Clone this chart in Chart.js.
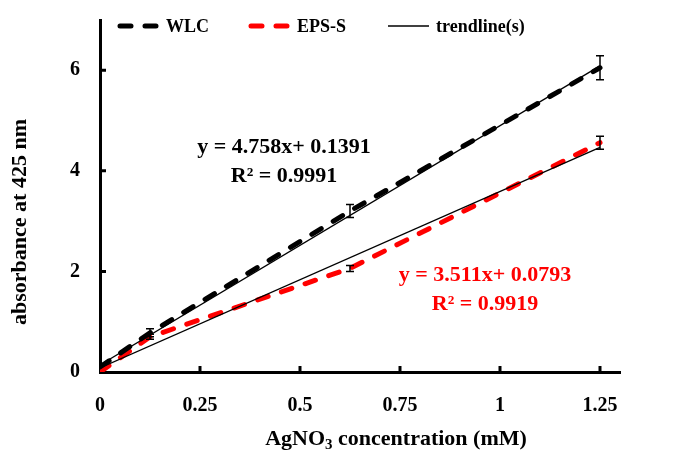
<!DOCTYPE html>
<html>
<head>
<meta charset="utf-8">
<script src="https://cdn.jsdelivr.net/npm/chart.js@4/dist/chart.umd.min.js"></script>
<style>
  body { margin: 0; background: #fff; }
  canvas { display: block; }
</style>
</head>
<body>
<canvas id="chart" width="677" height="455"></canvas>
<script>
// AgNO3 concentration (mM)
const concentrations = [0, 0.125, 0.625, 1.25];
// absorbance readings
const wlcValues = [0.1, 0.78, 3.2, 6.05];
const wlcErrors = [0, 0.08, 0.13, 0.24];
const epsValues = [0, 0.7, 2.06, 4.56];
const epsErrors = [0, 0.05, 0.06, 0.13];
// trendline equations as printed on the chart
const wlcFit = { slope: 4.758, intercept: 0.1391, r2: '0.9991' };
const epsFit = { slope: 3.511, intercept: 0.0793, r2: '0.9919' };
const xTicks = [0, 0.25, 0.5, 0.75, 1, 1.25];
const yTicks = [0, 2, 4, 6];

const FONT = '"Liberation Serif", "Times New Roman", serif';

const pts = (xs, ys) => xs.map((x, i) => ({ x: x, y: ys[i] }));
const fitLine = f => [0, 1.25].map(x => ({ x: x, y: f.slope * x + f.intercept }));

// error bars, inward ticks, legend, equations, axis titles
const extras = {
  id: 'extras',
  afterDatasetsDraw(chart) {
    const ctx = chart.ctx;
    const xs = chart.scales.x, ys = chart.scales.y;
    const area = chart.chartArea;
    ctx.save();

    // error bars
    ctx.strokeStyle = '#000';
    ctx.lineWidth = 1.5;
    [[wlcValues, wlcErrors], [epsValues, epsErrors]].forEach(([vals, errs]) => {
      concentrations.forEach((c, i) => {
        if (!errs[i]) return;
        const px = xs.getPixelForValue(c);
        const top = ys.getPixelForValue(vals[i] + errs[i]);
        const bot = ys.getPixelForValue(vals[i] - errs[i]);
        ctx.beginPath();
        ctx.moveTo(px, top); ctx.lineTo(px, bot);
        ctx.moveTo(px - 4, top); ctx.lineTo(px + 4, top);
        ctx.moveTo(px - 4, bot); ctx.lineTo(px + 4, bot);
        ctx.stroke();
      });
    });

    // inward tick marks
    ctx.lineWidth = 3;
    ctx.beginPath();
    xTicks.slice(1).forEach(v => {
      const px = xs.getPixelForValue(v);
      ctx.moveTo(px, area.bottom); ctx.lineTo(px, area.bottom - 6);
    });
    yTicks.slice(1).forEach(v => {
      const py = ys.getPixelForValue(v);
      ctx.moveTo(area.left, py); ctx.lineTo(area.left + 6, py);
    });
    ctx.stroke();

    // legend
    ctx.textBaseline = 'middle';
    ctx.textAlign = 'left';
    ctx.font = 'bold 18px ' + FONT;
    const ly = 26;
    const items = [
      { x: 118, color: '#000', dash: true, label: 'WLC' },
      { x: 249, color: '#ff0000', dash: true, label: 'EPS-S' },
      { x: 388, color: '#000', dash: false, label: 'trendline(s)' }
    ];
    items.forEach(it => {
      ctx.strokeStyle = it.color;
      ctx.lineWidth = it.dash ? 5 : 1.3;
      ctx.lineCap = it.dash ? 'round' : 'butt';
      ctx.setLineDash(it.dash ? [11, 14] : []);
      ctx.beginPath();
      ctx.moveTo(it.x + (it.dash ? 2 : 0), ly);
      ctx.lineTo(it.x + 41, ly);
      ctx.stroke();
      ctx.setLineDash([]);
      ctx.fillStyle = '#000';
      ctx.fillText(it.label, it.x + 48, ly + 1);
    });

    // trendline equations
    ctx.textAlign = 'center';
    ctx.font = 'bold 22px ' + FONT;
    const eq = (f, color, cx, cy) => {
      ctx.fillStyle = color;
      ctx.fillText('y = ' + f.slope + 'x+ ' + f.intercept, cx, cy);
      ctx.fillText('R\u00B2 = ' + f.r2, cx, cy + 29);
    };
    eq(wlcFit, '#000', 284, 147);
    eq(epsFit, '#ff0000', 485, 275);

    // y axis title
    ctx.fillStyle = '#000';
    ctx.font = 'bold 22px ' + FONT;
    ctx.translate(20, 222);
    ctx.rotate(-Math.PI / 2);
    ctx.fillText('absorbance at 425 nm', 0, 0);
    ctx.setTransform(1, 0, 0, 1, 0, 0);

    // x axis title with subscript
    ctx.textAlign = 'left';
    ctx.textBaseline = 'alphabetic';
    const big = 'bold 22px ' + FONT, small = 'bold 15px ' + FONT;
    const parts = [['AgNO', big, 0], ['3', small, 4], [' concentration (mM)', big, 0]];
    let w = 0;
    parts.forEach(p => { ctx.font = p[1]; w += ctx.measureText(p[0]).width; });
    let tx = 396 - w / 2;
    parts.forEach(p => {
      ctx.font = p[1];
      ctx.fillText(p[0], tx, 445 + p[2]);
      tx += ctx.measureText(p[0]).width;
    });

    ctx.restore();
  }
};

new Chart(document.getElementById('chart').getContext('2d'), {
  type: 'line',
  data: {
    datasets: [
      { label: 'WLC trend', data: fitLine(wlcFit), borderColor: '#000', borderWidth: 1.3, order: 0 },
      { label: 'EPS-S trend', data: fitLine(epsFit), borderColor: '#000', borderWidth: 1.3, order: 0 },
      { label: 'WLC', data: pts(concentrations, wlcValues), borderColor: '#000', borderWidth: 5,
        borderDash: [11, 14], borderCapStyle: 'round', order: 1 },
      { label: 'EPS-S', data: pts(concentrations, epsValues), borderColor: '#ff0000', borderWidth: 5,
        borderDash: [11, 14], borderCapStyle: 'round', order: 1 }
    ]
  },
  options: {
    responsive: false,
    devicePixelRatio: 1,
    animation: false,
    elements: { point: { radius: 0 }, line: { tension: 0, fill: false } },
    layout: { padding: { top: 20, right: 57, left: 0, bottom: 0 } },
    plugins: { legend: { display: false }, tooltip: { enabled: false } },
    scales: {
      x: {
        type: 'linear', min: 0, max: 1.3,
        afterBuildTicks: s => { s.ticks = xTicks.map(v => ({ value: v })); },
        afterFit: s => { s.height = 83; s.paddingLeft = 0; s.paddingRight = 0; },
        grid: { display: false, drawTicks: false },
        border: { color: '#000', width: 3 },
        ticks: { padding: 22, color: '#000', font: { family: FONT, size: 20, weight: 'bold' },
                 maxRotation: 0, callback: v => String(v) }
      },
      y: {
        type: 'linear', min: 0, max: 7,
        afterBuildTicks: s => { s.ticks = yTicks.map(v => ({ value: v })); },
        afterFit: s => { s.width = 100; s.paddingTop = 0; s.paddingBottom = 0; },
        grid: { display: false, drawTicks: false },
        border: { color: '#000', width: 3 },
        ticks: { padding: 20, color: '#000', font: { family: FONT, size: 20, weight: 'bold' },
                 callback: v => String(v) }
      }
    }
  },
  plugins: [extras]
});
</script>
</body>
</html>
